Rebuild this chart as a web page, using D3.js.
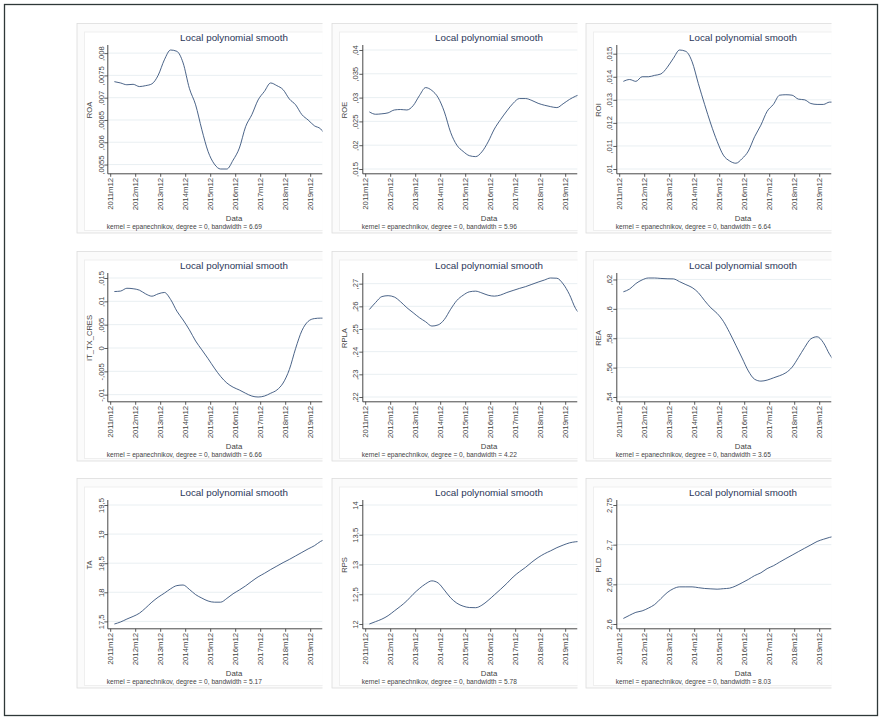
<!DOCTYPE html>
<html lang="en">
<head>
<meta charset="UTF-8">
<title>Local polynomial smooth</title>
<script src="https://cdn.jsdelivr.net/npm/d3@7"></script>
<style>
  body { margin: 0; background: #fff; }
  text { font-family: "Liberation Sans", Arial, sans-serif; }
</style>
</head>
<body>
<div id="chart"></div>
<script>

// months after 2011m12 where the smoothed curves were read
const months = [2, 5, 8, 11, 14, 17, 20, 23, 26, 29, 32, 35, 38, 41, 44, 47, 50, 53,
                56, 59, 62, 65, 68, 71, 74, 77, 80, 83, 86, 89, 92, 95, 98, 101, 104];

// x axis ticks
const yearMonths = [0, 12, 24, 36, 48, 60, 72, 84, 96];
const yearLabels = ["2011m12", "2012m12", "2013m12", "2014m12", "2015m12",
                    "2016m12", "2017m12", "2018m12", "2019m12"];

// series
const roa = [.00736, .00733, .00729, .0073, .00725, .00727, .00731, .0075, .00785, .00807,
             .00804, .00778, .00721, .00684, .00628, .00579, .00551, .0054, .0054, .0056,
             .00587, .00635, .00662, .00695, .00714, .00733, .00727, .00718, .00697, .00684,
             .00662, .0065, .00637, .0063, .0061];
const roe = [.0270, .0265, .0266, .0268, .0274, .0275, .0274, .0283, .0304, .0321,
             .0315, .0300, .0270, .0227, .0200, .0187, .0178, .0176, .0186, .0207,
             .0234, .0254, .0272, .0288, .0298, .0298, .0294, .0288, .0284, .0281,
             .0279, .0287, .0296, .0303, .0308];
const roi = [.0138, .01388, .0138, .0140, .0140, .01406, .01412, .0144, .0148, .01516,
             .0151, .01465, .0137, .0128, .01195, .0112, .0106, .01035, .01025, .01045,
             .01078, .0114, .0119, .0125, .0128, .0132, .01322, .0132, .01303, .0130,
             .01284, .0128, .0128, .0129, .0129];
const itTxCres = [.0121, .0122, .0128, .0127, .0124, .0116, .0111, .0116, .0119, .0104,
                  .0079, .0060, .0039, .0015, -.0004, -.0023, -.0043, -.0061, -.0075, -.0084,
                  -.0090, -.0097, -.0103, -.0105, -.0103, -.0097, -.0090, -.0075, -.0046, -.0001,
                  .0037, .0057, .0063, .0064, .0064];
const rpla = [.2586, .2617, .2643, .2647, .2641, .2620, .2594, .2572, .2550, .2532,
              .2513, .2518, .2542, .2587, .2626, .2649, .2664, .2667, .2659, .2649,
              .2645, .2650, .2661, .2670, .2679, .2687, .2697, .2707, .2716, .2725,
              .2724, .2699, .2653, .2590, .2560];
const rea = [.6116, .6135, .6172, .6197, .6210, .6210, .6207, .6205, .6204, .6185,
             .6165, .6145, .6110, .6056, .6007, .5969, .5915, .5838, .5752, .5665,
             .5577, .5521, .5508, .5515, .5530, .5545, .5565, .5603, .5668, .5737,
             .5796, .5810, .5770, .5690, .5630];
const ta = [17.455, 17.49, 17.54, 17.585, 17.64, 17.73, 17.83, 17.915, 17.985, 18.06,
            18.115, 18.125, 18.05, 17.96, 17.9, 17.85, 17.83, 17.83, 17.895, 17.975,
            18.04, 18.11, 18.19, 18.265, 18.325, 18.39, 18.45, 18.51, 18.565, 18.625,
            18.685, 18.745, 18.8, 18.875, 18.92];
const rps = [12.0, 12.04, 12.082, 12.14, 12.22, 12.30, 12.39, 12.50, 12.596, 12.675,
             12.725, 12.69, 12.57, 12.44, 12.35, 12.3, 12.277, 12.274, 12.316, 12.396,
             12.49, 12.584, 12.683, 12.79, 12.877, 12.953, 13.04, 13.117, 13.18, 13.23,
             13.283, 13.326, 13.363, 13.382, 13.39];
const pld = [2.607, 2.611, 2.6147, 2.6165, 2.620, 2.6245, 2.632, 2.6395, 2.6445, 2.6468,
             2.6468, 2.6468, 2.6458, 2.6448, 2.6443, 2.6439, 2.6445, 2.6452, 2.648, 2.652,
             2.6562, 2.661, 2.6645, 2.6698, 2.6734, 2.678, 2.6825, 2.6868, 2.6912, 2.6955,
             2.6997, 2.704, 2.7068, 2.7092, 2.711];

// y axis ticks
const roaTicks = [.0055, .006, .0065, .007, .0075, .008];
const roeTicks = [.015, .02, .025, .03, .035, .04];
const roiTicks = [.01, .011, .012, .013, .014, .015];
const itTicks = [-.01, -.005, 0, .005, .01, .015];
const rplaTicks = [.22, .23, .24, .25, .26, .27];
const reaTicks = [.54, .56, .58, .6, .62];
const taTicks = [17.5, 18, 18.5, 19, 19.5];
const rpsTicks = [12, 12.5, 13, 13.5, 14];
const pldTicks = [2.6, 2.65, 2.7, 2.75];

const varNames = ["ROA", "ROE", "ROI", "IT_TX_CRES", "RPLA", "REA", "TA", "RPS", "PLD"];
const bandwidths = ["6.69", "5.96", "6.64", "6.66", "4.22", "3.65", "5.17", "5.78", "8.03"];

const panels = [
  {name: varNames[0], values: roa, ticks: roaTicks, bw: bandwidths[0]},
  {name: varNames[1], values: roe, ticks: roeTicks, bw: bandwidths[1]},
  {name: varNames[2], values: roi, ticks: roiTicks, bw: bandwidths[2]},
  {name: varNames[3], values: itTxCres, ticks: itTicks, bw: bandwidths[3]},
  {name: varNames[4], values: rpla, ticks: rplaTicks, bw: bandwidths[4]},
  {name: varNames[5], values: rea, ticks: reaTicks, bw: bandwidths[5]},
  {name: varNames[6], values: ta, ticks: taTicks, bw: bandwidths[6]},
  {name: varNames[7], values: rps, ticks: rpsTicks, bw: bandwidths[7]},
  {name: varNames[8], values: pld, ticks: pldTicks, bw: bandwidths[8]}
];

// page layout
const width = 883, height = 719;
const colX = [75, 330, 584];
const rowY = [20, 248, 475];

// panel layout (relative to panel origin)
const clipW = 247.5;
const yAxisX = 32.8, xAxisY = 153.8, axisTop = 25;
const yTop = 30, yBottom = 149;
const xLeft = 35.2, xRight = 235.2;

// stata style decimal comma, no leading zero
const fmt = v => String(v).replace(/^(-?)0\./, "$1.").replace(".", ",");

const svg = d3.select("#chart")
  .append("svg")
    .attr("width", width)
    .attr("height", height);

svg.append("rect")
   .attr("x", 4.5).attr("y", 4.5)
   .attr("width", 873).attr("height", 711)
   .attr("fill", "#fff")
   .attr("stroke", "#2e3838")
   .attr("stroke-width", 1.3);

const x = d3.scaleLinear().domain([0, 96]).range([xLeft, xRight]);

panels.forEach((p, i) => {
  const g = svg.append("g")
      .attr("transform", "translate(" + colX[i % 3] + "," + rowY[Math.floor(i / 3)] + ")");

  const clipId = "clip" + i;
  g.append("clipPath").attr("id", clipId)
    .append("rect").attr("x", 0).attr("y", 0).attr("width", clipW).attr("height", 216);

  const c = g.append("g").attr("clip-path", "url(#" + clipId + ")");

  // graph region + plot region frames
  c.append("rect")
     .attr("x", 2).attr("y", 3.5).attr("width", 250).attr("height", 209.5)
     .attr("fill", "#fbfbfb").attr("stroke", "#dcdcdc").attr("stroke-width", 0.8);
  c.append("rect")
     .attr("x", 9.5).attr("y", 12).attr("width", 245).attr("height", 198.5)
     .attr("fill", "#fff").attr("stroke", "#ececec").attr("stroke-width", 0.8);

  const y = d3.scaleLinear()
      .domain(d3.extent(p.ticks.concat(p.values)))
      .range([yBottom, yTop]);

  // grid
  c.append("g").selectAll("line")
    .data(p.ticks)
    .enter()
    .append("line")
      .attr("x1", yAxisX).attr("x2", clipW)
      .attr("y1", d => y(d)).attr("y2", d => y(d))
      .attr("stroke", "#e6edf0").attr("stroke-width", 0.9);

  // the smooth
  const line = d3.line()
      .x((d, j) => x(months[j]))
      .y(d => y(d))
      .curve(d3.curveMonotoneX);
  c.append("path")
     .datum(p.values)
     .attr("d", line)
     .attr("fill", "none")
     .attr("stroke", "#2a4873")
     .attr("stroke-width", 0.85);

  // axes
  const ya = c.append("g")
      .attr("transform", "translate(" + yAxisX + ",0)")
      .call(d3.axisLeft(y).tickValues(p.ticks).tickFormat(fmt).tickSize(3.5).tickSizeOuter(0));
  ya.select(".domain").remove();
  ya.selectAll("text")
     .attr("x", 0).attr("dy", 0)
     .attr("transform", "translate(-4.3,0) rotate(-90)")
     .attr("text-anchor", "middle")
     .attr("font-size", 7.6)
     .attr("font-family", null)
     .attr("fill", "#444");

  const xa = c.append("g")
      .attr("transform", "translate(0," + xAxisY + ")")
      .call(d3.axisBottom(x).tickValues(yearMonths).tickFormat((d, j) => yearLabels[j]).tickSize(3).tickSizeOuter(0));
  xa.select(".domain").remove();
  xa.selectAll("text")
     .attr("x", 0).attr("y", 0).attr("dy", "0.35em")
     .attr("transform", "translate(0,4) rotate(-90)")
     .attr("text-anchor", "end")
     .attr("font-size", 7.8)
     .attr("font-family", null)
     .attr("fill", "#444");
  g.selectAll(".tick line").attr("stroke", "#333").attr("stroke-width", 0.8);

  c.append("line")
     .attr("x1", yAxisX).attr("x2", yAxisX)
     .attr("y1", axisTop).attr("y2", xAxisY)
     .attr("stroke", "#333").attr("stroke-width", 0.9);
  c.append("line")
     .attr("x1", yAxisX).attr("x2", clipW)
     .attr("y1", xAxisY).attr("y2", xAxisY)
     .attr("stroke", "#333").attr("stroke-width", 0.9);

  // titles and note
  c.append("text")
     .attr("x", 159).attr("y", 21)
     .attr("text-anchor", "middle")
     .attr("font-size", 9.8)
     .attr("fill", "#2a3658")
     .text("Local polynomial smooth");

  c.append("text")
     .attr("transform", "translate(16.5,90) rotate(-90)")
     .attr("text-anchor", "middle")
     .attr("font-size", 7.6)
     .attr("fill", "#444")
     .text(p.name);

  c.append("text")
     .attr("x", 159).attr("y", 201)
     .attr("text-anchor", "middle")
     .attr("font-size", 7.8)
     .attr("fill", "#444")
     .text("Data");

  c.append("text")
     .attr("x", 31.7).attr("y", 208.5)
     .attr("font-size", 6.6)
     .attr("fill", "#444")
     .text("kernel = epanechnikov, degree = 0, bandwidth = " + p.bw);
});

</script>
</body>
</html>
